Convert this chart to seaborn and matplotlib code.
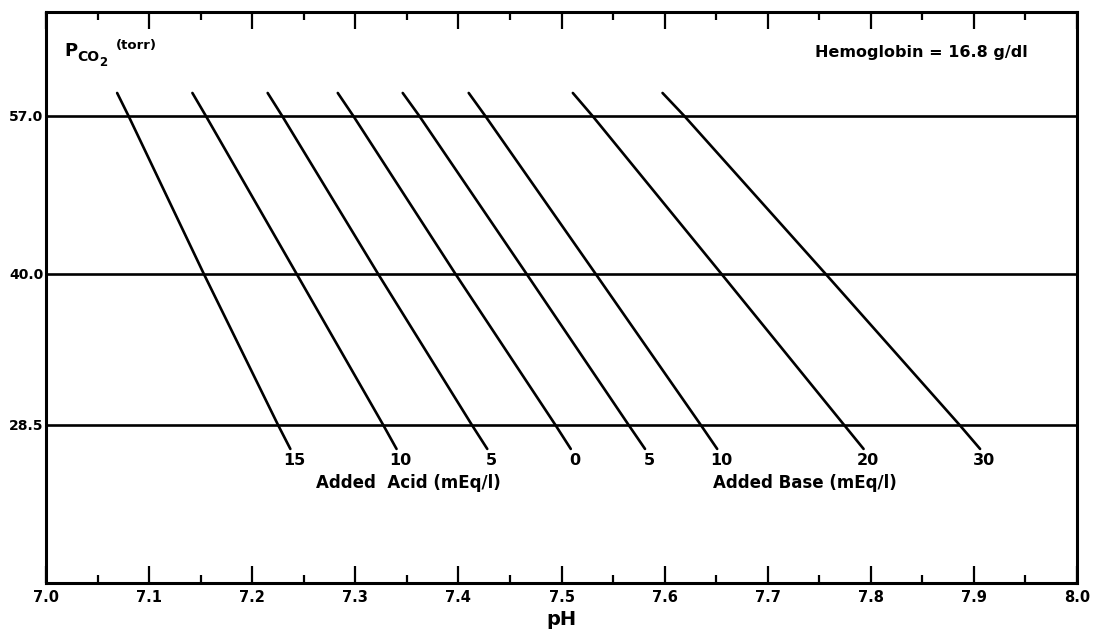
import numpy as np
import pandas as pd
import matplotlib
matplotlib.use("Agg")
import matplotlib.pyplot as plt
from matplotlib.ticker import MultipleLocator, NullLocator, FixedLocator
import seaborn as sns

# ---------------- data ----------------
line_labels = ["15", "10", "5", "0", "5", "10", "20", "30"]
added_mEq = [-15, -10, -5, 0, 5, 10, 20, 30]   # negative = added acid

# PCO2 (torr) at which each buffer line is sampled: top end, 57, 40, 28.5, bottom end
pco2_top = 60.0
pco2_bottom = 27.0
pco2_ref = [57.0, 40.0, 28.5]
pco2_ref_labels = ["57.0", "40.0", "28.5"]

ph_top = [7.069, 7.142, 7.215, 7.283, 7.346, 7.410, 7.511, 7.598]
ph_57 = [7.080, 7.155, 7.229, 7.298, 7.362, 7.426, 7.530, 7.619]
ph_40 = [7.153, 7.243, 7.322, 7.397, 7.466, 7.533, 7.655, 7.756]
ph_28 = [7.225, 7.327, 7.413, 7.494, 7.565, 7.635, 7.774, 7.886]
ph_bottom = [7.237, 7.340, 7.428, 7.509, 7.581, 7.651, 7.793, 7.906]

ph_ticks = [7.0, 7.1, 7.2, 7.3, 7.4, 7.5, 7.6, 7.7, 7.8, 7.9, 8.0]
ph_tick_labels = ["7.0", "7.1", "7.2", "7.3", "7.4", "7.5", "7.6", "7.7", "7.8", "7.9", "8.0"]

# ---------------- long-form table ----------------
rows = []
for i in range(len(line_labels)):
    for p, ph in zip([pco2_top] + pco2_ref + [pco2_bottom],
                     [ph_top[i], ph_57[i], ph_40[i], ph_28[i], ph_bottom[i]]):
        rows.append({"line": i, "added": added_mEq[i], "pH": ph, "PCO2": p})
df = pd.DataFrame(rows)

# ---------------- figure ----------------
sns.set_theme(style="white")
plt.rcParams["font.family"] = ["DejaVu Sans"]
plt.rcParams["font.weight"] = "bold"

W, H = 1097, 635
fig = plt.figure(figsize=(W / 100, H / 100), dpi=100)
ax_l, ax_r, ax_t, ax_b = 46, 1077, 11.7, 582.7
ax = fig.add_axes([ax_l / W, 1 - ax_b / H, (ax_r - ax_l) / W, (ax_b - ax_t) / H])
ax.set_yscale("log")

sns.lineplot(data=df, x="pH", y="PCO2", units="line", estimator=None, sort=False,
             color="black", lw=1.9, ax=ax, legend=False)

for v in pco2_ref:
    ax.axhline(v, color="black", lw=1.9, zorder=1)

ax.set_xlim(7.0, 8.0)
ax.set_ylim(20.0, 72.0)

# x ticks: inward, top and bottom
ax.xaxis.set_major_locator(FixedLocator(ph_ticks))
ax.set_xticklabels(ph_tick_labels)
ax.xaxis.set_minor_locator(MultipleLocator(0.05))
ax.tick_params(axis="x", which="both", direction="in", top=True, bottom=True,
               width=1.6, color="black", labelsize=10.5, pad=5, labelcolor="black")
ax.tick_params(axis="x", which="major", length=12)
ax.tick_params(axis="x", which="minor", length=6)

# y ticks: labels only
ax.yaxis.set_major_locator(FixedLocator(pco2_ref))
ax.set_yticklabels(pco2_ref_labels)
ax.yaxis.set_minor_locator(NullLocator())
ax.tick_params(axis="y", which="both", length=0, pad=2, labelsize=10, labelcolor="black")

for lab in ax.get_xticklabels() + ax.get_yticklabels():
    lab.set_fontweight("bold")

for s in ax.spines.values():
    s.set_visible(True)
    s.set_color("black")
    s.set_linewidth(2.2)

ax.set_xlabel("pH", fontsize=14, fontweight="bold", labelpad=4, color="black")
ax.set_ylabel("")
ax.grid(False)

# numbers under each line
for i, lab in enumerate(line_labels):
    ax.annotate(lab, xy=(ph_bottom[i], pco2_bottom), xytext=(3.0, -8.5),
                textcoords="offset points", ha="center", va="center",
                fontsize=11.5, fontweight="bold", color="black")

ax.text(7.351, 25.0, "Added  Acid (mEq/l)", ha="center", va="center",
        fontsize=12, fontweight="bold", color="black")
ax.text(7.736, 25.0, "Added Base (mEq/l)", ha="center", va="center",
        fontsize=12, fontweight="bold", color="black")


def afx(px):
    return (px - ax_l) / (ax_r - ax_l)


def afy(py):
    return (ax_b - py) / (ax_b - ax_t)


ax.text(afx(921), afy(52), "Hemoglobin = 16.8 g/dl", transform=ax.transAxes,
        ha="center", va="center", fontsize=11.5, fontweight="bold", color="black")

ax.text(afx(64), afy(56), "P", transform=ax.transAxes, ha="left", va="baseline",
        fontsize=13, fontweight="bold", color="black")
ax.text(afx(77), afy(61), "CO", transform=ax.transAxes, ha="left", va="baseline",
        fontsize=10, fontweight="bold", color="black")
ax.text(afx(99), afy(66), "2", transform=ax.transAxes, ha="left", va="baseline",
        fontsize=8.5, fontweight="bold", color="black")
ax.text(afx(116), afy(45), "(torr)", transform=ax.transAxes, ha="left", va="center",
        fontsize=9.5, fontweight="bold", color="black")

fig.savefig("out.png", dpi=100, facecolor="white")
